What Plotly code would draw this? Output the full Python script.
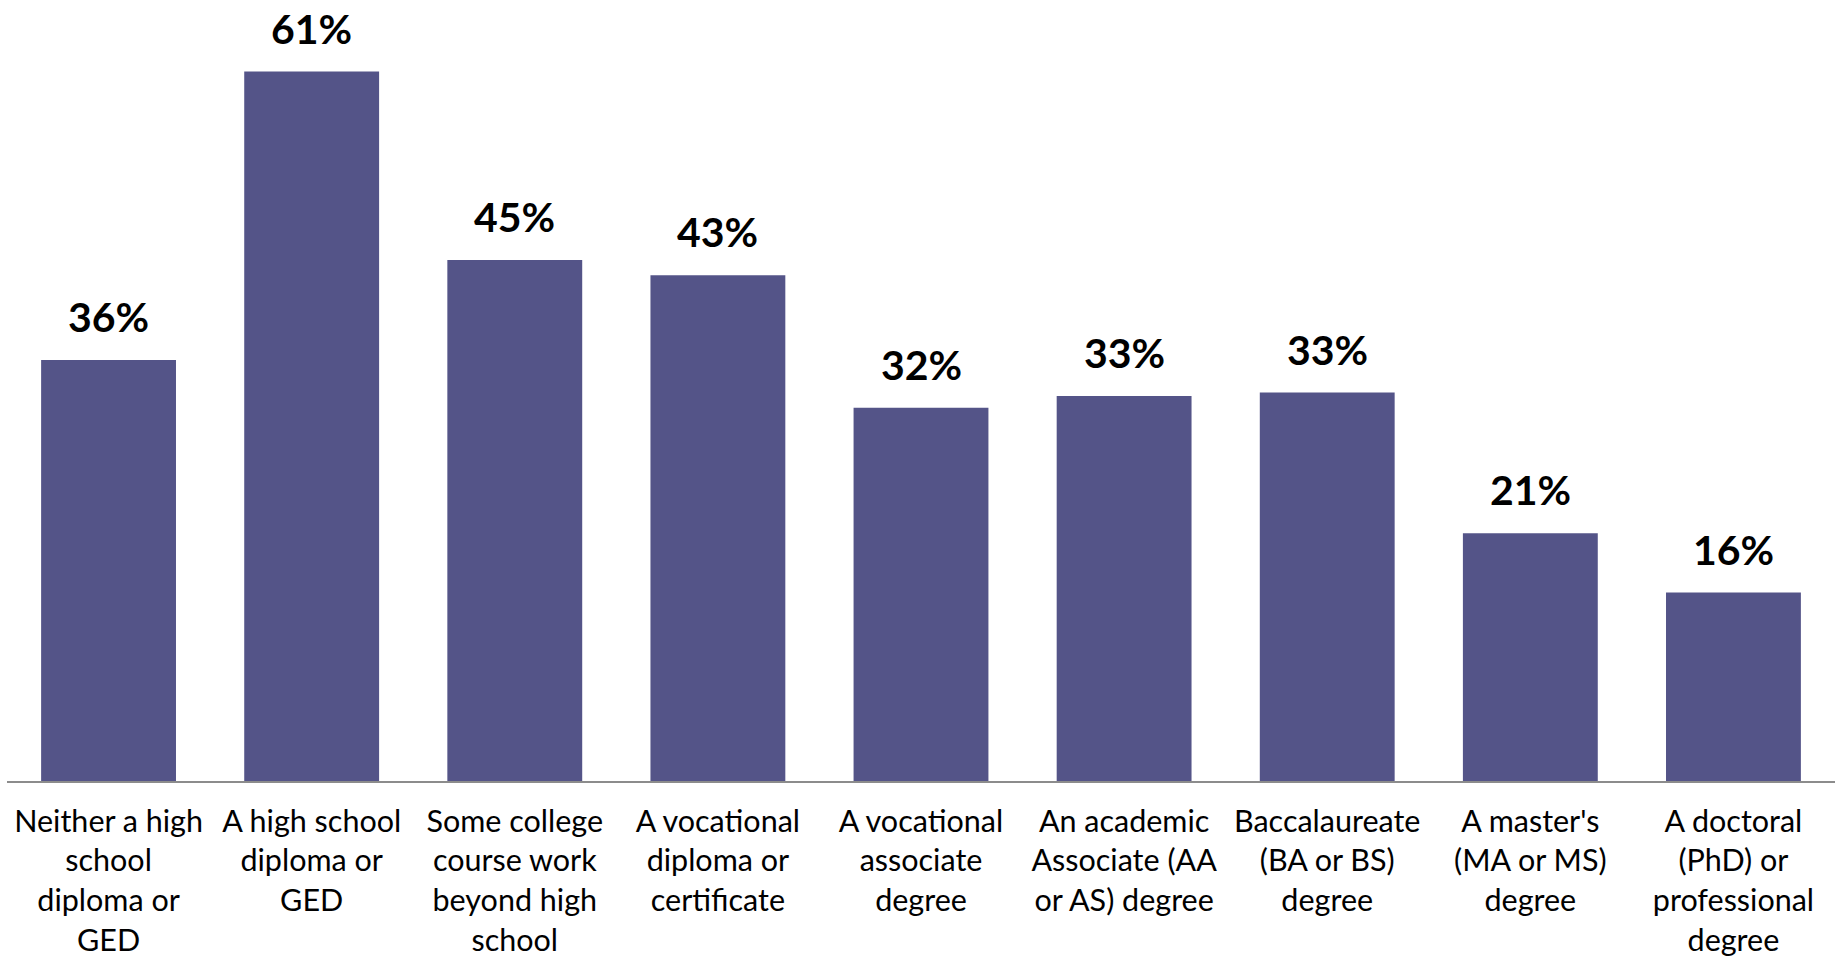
import plotly.graph_objects as go

categories = [
    "Neither a high<br>school<br>diploma or<br>GED",
    "A high school<br>diploma or<br>GED",
    "Some college<br>course work<br>beyond high<br>school",
    "A vocational<br>diploma or<br>certificate",
    "A vocational<br>associate<br>degree",
    "An academic<br>Associate (AA<br>or AS) degree",
    "Baccalaureate<br>(BA or BS)<br>degree",
    "A master's<br>(MA or MS)<br>degree",
    "A doctoral<br>(PhD) or<br>professional<br>degree",
]
values = [36.2, 61.0, 44.8, 43.5, 32.1, 33.1, 33.4, 21.3, 16.2]
value_labels = ["36%", "61%", "45%", "43%", "32%", "33%", "33%", "21%", "16%"]

BAR_COLOR = "#545488"
FONT = "Lato, 'Open Sans', sans-serif"

fig = go.Figure()
fig.add_trace(go.Bar(
    x=categories,
    y=values,
    marker=dict(color=BAR_COLOR, line=dict(width=0)),
    hoverinfo="skip",
))

for c, v, t in zip(categories, values, value_labels):
    fig.add_annotation(
        x=c, y=v, text=f"<b>{t}</b>", showarrow=False,
        yanchor="bottom", yshift=17,
        font=dict(family=FONT, size=41, color="#000000"),
    )

fig.update_layout(
    width=1837, height=956,
    margin=dict(l=7, r=2, t=3, b=175),
    paper_bgcolor="white", plot_bgcolor="white",
    bargap=0.336,
    showlegend=False,
    font=dict(family=FONT, size=30.5, color="#000000"),
    xaxis=dict(
        showline=True, linecolor="#8c8c8c", linewidth=2,
        ticks="", showgrid=False,
        tickfont=dict(size=30.5, family=FONT, color="#000000"),
        ticklabelstandoff=12,
        automargin=False,
    ),
    yaxis=dict(range=[0, 66.9], visible=False, showgrid=False, zeroline=False,
               automargin=False),
)

fig.write_html(
    "out.html",
    config={"displayModeBar": False},
    post_script="document.body.style.margin='0';document.body.style.overflow='hidden';",
)
